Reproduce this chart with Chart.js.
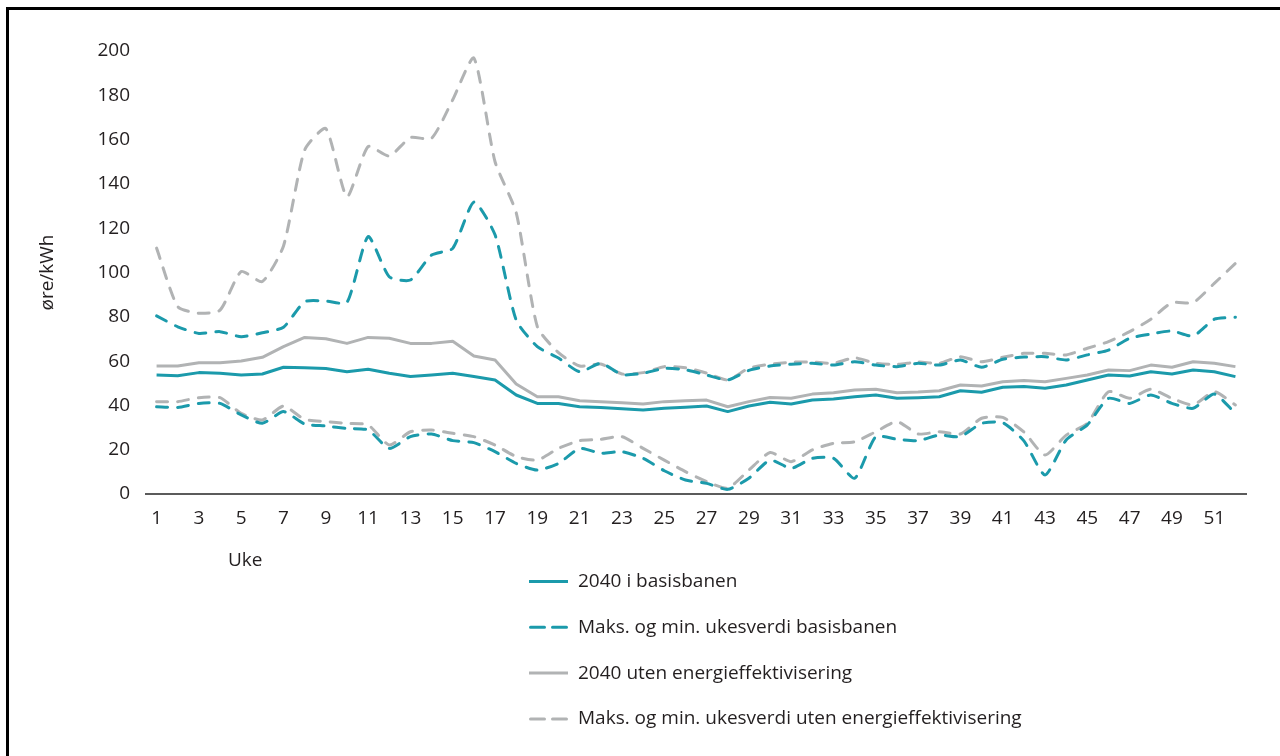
<!DOCTYPE html>
<html>
<head>
<meta charset="utf-8">
<script src="https://cdn.jsdelivr.net/npm/chart.js@4.4.1/dist/chart.umd.min.js"></script>
<style>
html, body { margin: 0; padding: 0; background: #fff; }
#wrap { position: relative; width: 1280px; height: 756px; overflow: hidden; }
#ramme { position: absolute; left: 6px; top: 7px; width: 1400px; height: 900px; border-left: 3px solid #000; border-top: 3px solid #000; box-sizing: border-box; }
#grafico { position: absolute; left: 0; top: 0; }
</style>
</head>
<body>
<div id="wrap">
  <div id="ramme"></div>
  <canvas id="grafico" width="1280" height="756"></canvas>
</div>
<script>
// uker (kategorier)
const uker = ['1','2','3','4','5','6','7','8','9','10','11','12','13','14','15','16','17','18','19','20',
  '21','22','23','24','25','26','27','28','29','30','31','32','33','34','35','36','37','38','39','40',
  '41','42','43','44','45','46','47','48','49','50','51','52'];

// 2040 i basisbanen
const basisSnitt = [53.7,53.4,54.8,54.5,53.7,54.2,57.2,57.0,56.7,55.2,56.3,54.5,53.0,53.7,54.5,53.0,51.5,44.7,40.9,40.9,
  39.4,39.0,38.5,37.9,38.7,39.2,39.7,37.2,39.7,41.4,40.6,42.4,42.9,43.9,44.7,43.2,43.5,43.9,46.6,45.9,
  48.2,48.5,47.7,49.2,51.5,53.7,53.3,55.2,54.2,56.0,55.2,53.0];
const basisMaks = [80.4,75.5,72.5,73.3,71.0,72.8,75.3,86.8,87.1,86.5,116.2,98.1,96.6,107.9,110.9,131.8,117.0,78.5,66.5,61.4,
  55.2,59.0,53.9,54.5,56.7,56.1,53.7,51.5,55.8,57.8,58.6,59.0,58.2,59.7,58.2,57.5,59.0,58.2,60.5,57.2,
  60.8,61.8,62.0,60.5,62.8,65.0,70.3,72.2,73.6,71.3,78.9,79.8];
const basisMin = [39.4,39.1,40.9,40.9,35.7,31.9,37.2,31.6,30.7,29.6,28.9,20.6,25.9,27.1,24.1,23.2,19.1,13.8,10.8,13.8,
  20.6,18.4,19.1,16.1,10.5,6.3,4.8,2.1,7.1,15.3,11.6,16.1,16.1,7.1,25.9,24.7,24.1,26.6,25.9,31.9,
  32.2,24.0,8.6,24.4,31.2,43.2,40.9,44.7,40.9,38.7,45.1,36.4];

// 2040 uten energieffektivisering
const utenSnitt = [57.8,57.8,59.3,59.3,60.0,61.7,66.5,70.7,70.1,68.0,70.7,70.3,68.0,68.0,69.0,62.3,60.5,49.7,43.9,43.9,
  42.1,41.7,41.2,40.6,41.7,42.1,42.4,39.4,41.7,43.6,43.2,45.1,45.7,47.0,47.3,45.7,46.0,46.6,49.2,48.8,
  50.7,51.2,50.7,52.2,53.7,56.0,55.7,58.2,57.2,59.7,59.0,57.5];
const utenMaks = [111.0,84.6,81.6,83.0,100.4,95.9,112.0,155.3,165.0,134.2,156.8,152.6,160.9,160.6,178.0,196.8,150.0,127.0,75.5,63.8,
  57.8,58.7,54.2,54.8,57.5,57.0,54.6,51.5,56.8,58.6,59.5,59.6,59.0,61.5,59.0,58.5,59.6,59.0,62.0,59.7,
  61.7,63.5,63.5,62.8,65.8,68.8,73.3,78.9,86.4,86.4,95.1,104.1];
const utenMin = [41.7,41.7,43.5,43.5,36.4,33.4,39.7,33.7,32.7,31.9,31.2,22.1,28.1,28.9,27.4,25.9,22.1,16.9,15.3,20.6,
  24.1,24.7,25.9,20.6,15.3,10.1,5.6,2.6,10.8,18.7,14.6,19.9,22.9,23.6,28.1,32.7,27.1,28.1,27.1,34.2,
  34.6,28.0,17.6,26.6,31.9,46.2,43.2,47.3,43.2,40.2,46.2,40.2];

const teal = '#1b9aab';
const graa = '#b1b3b4';
const tekst = '#231f20';
const font = "'Open Sans', 'Noto Sans', sans-serif";
const str = 19;

const strek = [11, 10];

// hvilke linjer som står i tegnforklaringen
const forklaring = [
  { tekst: '2040 i basisbanen', farge: teal, stiplet: false },
  { tekst: 'Maks. og min. ukesverdi basisbanen', farge: teal, stiplet: true },
  { tekst: '2040 uten energieffektivisering', farge: graa, stiplet: false },
  { tekst: 'Maks. og min. ukesverdi uten energieffektivisering', farge: graa, stiplet: true }
];

const linje = (data, farge, stiplet) => ({
  data: data,
  borderColor: farge,
  backgroundColor: farge,
  borderWidth: 3,
  borderDash: stiplet ? strek : [],
  borderCapStyle: stiplet ? 'round' : 'butt',
  borderJoinStyle: 'round',
  pointRadius: 0,
  tension: stiplet ? 0.2 : 0,
  fill: false
});

const tegnforklaring = {
  id: 'tegnforklaring',
  afterDraw(chart) {
    const ctx = chart.ctx;
    const area = chart.chartArea;
    ctx.save();
    ctx.fillStyle = tekst;
    ctx.font = str + 'px ' + font;
    ctx.textAlign = 'left';
    ctx.textBaseline = 'middle';
    ctx.fillText('Uke', area.left + 82, area.bottom + 67);

    forklaring.forEach((f, i) => {
      const y = area.bottom + 87.5 + i * 45.8;
      ctx.beginPath();
      ctx.strokeStyle = f.farge;
      ctx.lineWidth = 3;
      if (f.stiplet) {
        ctx.setLineDash([14, 8]);
        ctx.lineCap = 'round';
        ctx.moveTo(530.5, y);
        ctx.lineTo(566.5, y);
      } else {
        ctx.setLineDash([]);
        ctx.lineCap = 'butt';
        ctx.moveTo(529, y);
        ctx.lineTo(568, y);
      }
      ctx.stroke();
      ctx.fillText(f.tekst, 578, y);
    });
    ctx.restore();
  }
};

Chart.defaults.font.family = font;
Chart.defaults.color = tekst;

new Chart(document.getElementById('grafico'), {
  type: 'line',
  data: {
    labels: uker,
    datasets: [
      linje(basisSnitt, teal, false),
      linje(basisMaks, teal, true),
      linje(basisMin, teal, true),
      linje(utenSnitt, graa, false),
      linje(utenMaks, graa, true),
      linje(utenMin, graa, true)
    ]
  },
  options: {
    responsive: false,
    animation: false,
    layout: { padding: { top: 51, right: 34, bottom: 222, left: 0 } },
    plugins: { legend: { display: false }, tooltip: { enabled: false } },
    scales: {
      x: {
        offset: true,
        grid: { display: false, drawTicks: false },
        border: { display: true, color: '#5b5b5b', width: 2 },
        ticks: {
          autoSkip: false,
          maxRotation: 0,
          padding: 13,
          font: { size: str },
          color: tekst,
          callback: (v, i) => (i % 2 === 0 ? uker[i] : '')
        },
        afterFit: s => { s.height = 40; }
      },
      y: {
        min: 0,
        max: 200,
        grid: { display: false, drawTicks: false },
        border: { display: false },
        ticks: { stepSize: 20, padding: 16, font: { size: str }, color: tekst },
        title: { display: true, text: 'øre/kWh', font: { size: str }, color: tekst, padding: { top: 36, bottom: 0 } },
        afterFit: s => { s.width = 146; }
      }
    }
  },
  plugins: [tegnforklaring]
});
</script>
</body>
</html>
